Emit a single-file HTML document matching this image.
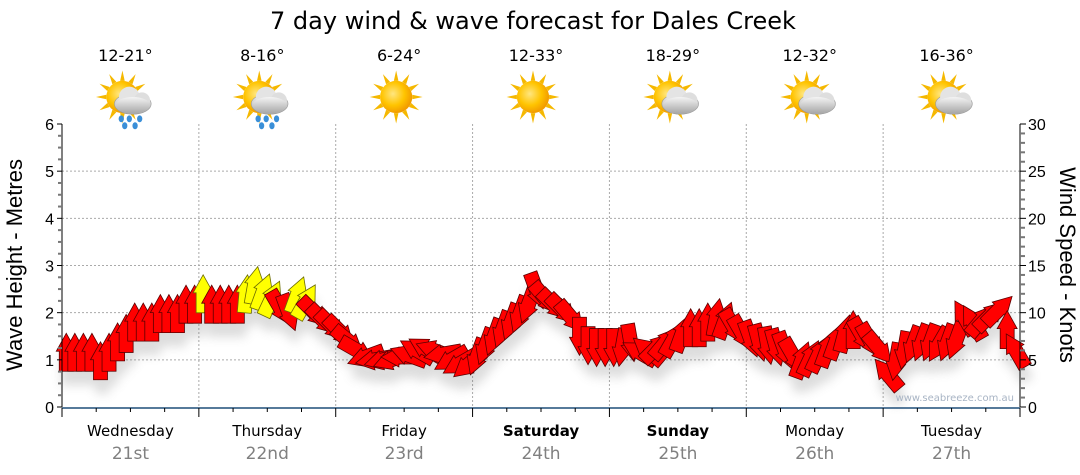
<!DOCTYPE html>
<html><head><meta charset="utf-8"><style>
body{margin:0;background:#fff;}
svg{display:block;font-family:"DejaVu Sans","Liberation Sans",sans-serif;}
</style></head><body>
<svg id="chart" width="1080" height="475" viewBox="0 0 1080 475" xmlns="http://www.w3.org/2000/svg">
<defs>
<filter id="sh" x="-50%" y="-50%" width="200%" height="200%"><feGaussianBlur stdDeviation="5"/></filter>
<radialGradient id="sun" cx="0.4" cy="0.4" r="0.6"><stop offset="0" stop-color="#ffe680"/><stop offset="0.6" stop-color="#ffc400"/><stop offset="1" stop-color="#f29c00"/></radialGradient>
<linearGradient id="cloud" x1="0" y1="0" x2="0" y2="1"><stop offset="0" stop-color="#f4f4f4"/><stop offset="1" stop-color="#a8a8a8"/></linearGradient>
</defs>
<text x="533" y="29" font-size="24" text-anchor="middle" fill="#000">7 day wind &amp; wave forecast for Dales Creek</text>
<g id="grid"></g>
<g id="shadows" filter="url(#sh)" opacity="0.22"></g>
<g id="arrows"></g>
<g id="axes"></g>
<g id="icons"></g>
<text transform="translate(22,265) rotate(-90)" font-size="22" text-anchor="middle" font-family="Liberation Sans, sans-serif">Wave Height - Metres</text>
<text transform="translate(1060,265) rotate(90)" font-size="22" text-anchor="middle" font-family="Liberation Sans, sans-serif">Wind Speed - Knots</text>
<text x="1014" y="401" font-size="10" text-anchor="end" fill="#a8b4c4">www.seabreeze.com.au</text>
</svg>
<script>
const days = ["Wednesday","Thursday","Friday","Saturday","Sunday","Monday","Tuesday"];
const dates = ["21st","22nd","23rd","24th","25th","26th","27th"];
const boldDays = [false,false,false,true,true,false,false];
const temps = ["12-21°","8-16°","6-24°","12-33°","18-29°","12-32°","16-36°"];
const iconType = ["rain","rain","sun","sun","cloud","cloud","cloud"];
const waveTicks = [0,1,2,3,4,5,6];
const windTicks = [0,5,10,15,20,25,30];
const windSpeed = [
5.8,5.8,5.8,5.8,4.9,5.8,6.9,7.8,9.0,9.0,9.0,9.9,9.9,9.9,10.9,10.9,
12.0,10.9,10.9,10.9,10.9,12.0,12.9,12.2,11.5,10.5,10.0,11.9,11.2,10.0,9.2,8.6,
8.0,7.0,6.0,5.3,5.0,5.0,5.0,5.3,5.5,6.0,6.2,6.0,5.6,5.0,4.6,4.5,
5.3,6.4,7.4,8.2,9.0,9.8,10.8,12.3,11.5,10.8,10.3,9.5,7.5,6.5,6.3,6.3,
6.3,6.3,6.8,5.8,6.0,6.3,6.8,7.2,7.8,8.4,8.4,9.0,9.5,9.2,8.5,7.8,
7.2,6.8,6.5,6.3,6.0,5.4,5.0,5.2,5.6,6.2,7.0,7.8,8.2,7.6,7.0,6.2,
3.5,4.8,6.0,6.6,6.8,6.8,6.6,6.8,7.0,9.5,9.0,9.2,9.7,10.3,8.2,6.0];
const windDir = [
0,0,0,0,0,0,0,0,0,0,0,0,0,0,0,0,
0,0,0,0,0,5,10,20,25,150,160,20,30,135,135,135,
135,130,120,250,260,255,250,270,290,300,300,290,260,240,240,230,
200,200,200,200,200,200,200,160,140,135,135,140,180,180,180,180,
180,190,170,300,310,45,40,30,20,0,0,0,10,20,150,150,
160,165,170,165,160,150,20,25,25,20,20,15,0,150,150,140,
320,190,190,200,200,200,210,200,200,330,330,40,45,45,0,330];
const gustFlag = [
0,0,0,0,0,0,0,0,0,0,0,0,0,0,0,0,
1,0,0,0,0,1,1,1,1,0,0,1,1,0,0,0,
0,0,0,0,0,0,0,0,0,0,0,0,0,0,0,0,
0,0,0,0,0,0,0,0,0,0,0,0,0,0,0,0,
0,0,0,0,0,0,0,0,0,0,0,0,0,0,0,0,
0,0,0,0,0,0,0,0,0,0,0,0,0,0,0,0,
0,0,0,0,0,0,0,0,0,0,0,0,0,0,0,0];

const NS="http://www.w3.org/2000/svg";
const X0=62,X1=1020,Y0=407,Y1=124;
const dayW=(X1-X0)/7;
const yWave=v=>Y0-(v/6)*(Y0-Y1);
const yWind=v=>Y0-(v/30)*(Y0-Y1);
const xTime=t=>X0+t*dayW;
function mk(tag,attrs,parent){const e=document.createElementNS(NS,tag);for(const k in attrs)e.setAttribute(k,attrs[k]);parent.appendChild(e);return e;}
const grid=document.getElementById('grid'),axes=document.getElementById('axes');
waveTicks.forEach(v=>{if(v>0&&v<6){const l=mk('line',{x1:X0,x2:X1,y1:yWave(v),y2:yWave(v),stroke:'#aaa','stroke-dasharray':'2,2'},grid);

}});
for(let d=1;d<7;d++){const l=mk('line',{x1:xTime(d),x2:xTime(d),y1:Y1,y2:Y0,stroke:'#aaa','stroke-dasharray':'2,2'},grid);

}
mk('line',{x1:X0,x2:X0,y1:Y1,y2:Y0,stroke:'#000'},axes);
for(let i=0;i<=24;i++){const v=i/4;const maj=i%4==0;mk('line',{x1:maj?X0-5:X0-4,x2:X0,y1:yWave(v),y2:yWave(v),stroke:maj?'#000':'#777','stroke-width':maj?1:2},axes);}
waveTicks.forEach(v=>{const t=mk('text',{x:X0-8,y:yWave(v)+6,'font-size':16,'text-anchor':'end','font-family':'Liberation Sans, sans-serif'},axes);t.textContent=v;

});
mk('line',{x1:X1,x2:X1,y1:Y1,y2:Y0,stroke:'#000'},axes);
for(let i=0;i<=30;i++){const maj=i%5==0;mk('line',{x1:X1,x2:X1+(maj?6:5),y1:yWind(i),y2:yWind(i),stroke:maj?'#000':'#777','stroke-width':maj?1:2},axes);}
windTicks.forEach(v=>{const t=mk('text',{x:X1+8,y:yWind(v)+6,'font-size':16,'font-family':'Liberation Sans, sans-serif'},axes);t.textContent=v;

});
mk('line',{x1:X0,x2:X1,y1:Y0+1,y2:Y0+1,stroke:'#1f4e79','stroke-width':1.5},axes);
for(let i=0;i<=28;i++){const maj=i%4==0;mk('line',{x1:xTime(i/4),x2:xTime(i/4),y1:Y0+1,y2:Y0+(maj?10:5),stroke:'#000'},axes);}
days.forEach((d,i)=>{const cx=xTime(i+0.5);
const t=mk('text',{x:cx,y:436,'font-size':15,'text-anchor':'middle','font-weight':boldDays[i]?'bold':'normal'},axes);t.textContent=d;


const t2=mk('text',{x:cx,y:459,'font-size':17,'text-anchor':'middle',fill:'#808080'},axes);t2.textContent=dates[i];


const t3=mk('text',{x:cx-5,y:61,'font-size':16,'text-anchor':'middle'},axes);t3.textContent=temps[i];


});
const icons=document.getElementById('icons');
iconType.forEach((tp,i)=>{const cx=xTime(i+0.5)-8,cy=97;
const g=mk('g',{transform:`translate(${cx},${cy}) scale(1.15)`},icons);


for(let k=0;k<12;k++){const a=k*30;mk('polygon',{points:'-2,-14 2,-14 0,-23',fill:'#f5b800',transform:`rotate(${a})`},g);}
mk('circle',{cx:0,cy:0,r:14,fill:'url(#sun)'},g);
if(tp!=='sun'){const c=mk('g',{transform:'translate(9,4)'},g);
mk('ellipse',{cx:0,cy:2,rx:16,ry:9,fill:'url(#cloud)',stroke:'#999','stroke-width':0.5},c);
mk('circle',{cx:-3,cy:-4,r:9,fill:'#e4e4e4'},c);mk('circle',{cx:8,cy:-1,r:7,fill:'#dedede'},c);
mk('ellipse',{cx:0,cy:3,rx:15,ry:7,fill:'url(#cloud)'},c);
if(tp==='rain'){[[-10,15],[-3,15],[6,15],[-7,21],[2,21]].forEach(p=>mk('ellipse',{cx:p[0],cy:p[1],rx:2.3,ry:3,fill:'#3a8fd8'},c));}}
});
const ag=document.getElementById('arrows'),sg=document.getElementById('shadows');
const pts='0,-19 10,-1 7,-1 7,19 -7,19 -7,-1 -10,-1';
windSpeed.forEach((s,i)=>{const x=xTime((i+0.5)/16),y=yWind(s);
mk('polygon',{points:pts,fill:'#666',transform:`translate(${x+2},${y+14}) rotate(${windDir[i]})`},sg);
const p=mk('polygon',{points:pts,fill:gustFlag[i]?'#ffff00':'#ff0000',stroke:gustFlag[i]?'#6b6b00':'#5a0000','stroke-width':0.8,transform:`translate(${x},${y}) rotate(${windDir[i]})`},ag);


});
</script>
</body></html>
